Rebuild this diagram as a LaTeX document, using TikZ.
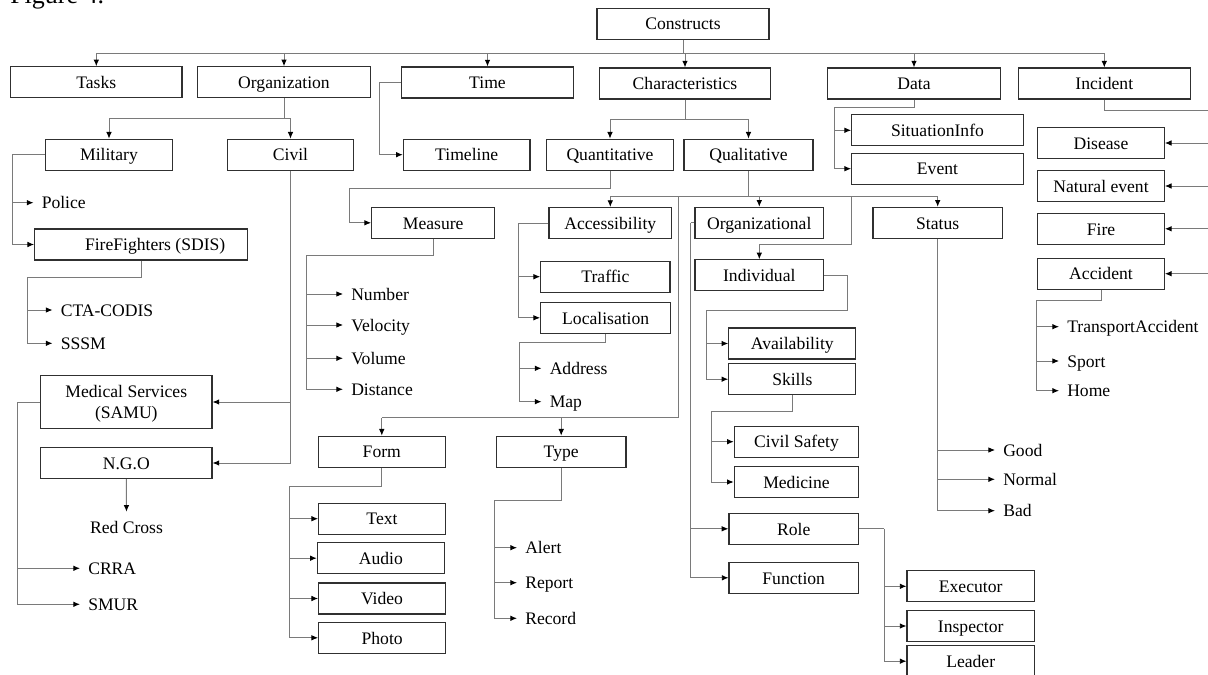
\documentclass[tikz,border=0pt]{standalone}
\usepackage{fontspec}
\setmainfont{Liberation Serif}
\usetikzlibrary{arrows.meta}

\definecolor{boxline}{HTML}{303030}
\definecolor{wire}{HTML}{7A7A7A}

\tikzset{
  box/.style={draw=boxline, line width=0.9pt, inner sep=0pt, minimum height=23.2pt,
    minimum width={#1*0.75pt}, text height=9.4pt, text depth=0pt},
  lbl/.style={anchor=west, inner xsep=6pt, inner ysep=0pt, text height=9pt, text depth=0pt},
  link/.style={draw=wire, line width=0.7pt},
  arr/.style={link, -{Latex[length=5pt,width=4.2pt,color=black]}},
}

\begin{document}
\begin{tikzpicture}[x=0.75pt, y=-0.75pt, font=\fontsize{13.2}{16}\selectfont]

        \useasboundingbox (0,0) rectangle (1208,675);
        \clip (0,0) rectangle (1208,675);

        \node(FIG)[anchor=base west, inner sep=0pt, font=\fontsize{19.5}{22}\selectfont] at (10,3) {Figure 4.};

        % Constructs:
        \node(CON)[box=172] at (683,23.7) {Constructs};
        \node(TSK)[box=171.5] at (96.3,82.3) {Tasks};
        \node(ORG)[box=172.6] at (284,82.3) {Organization};
        \node(TIM)[box=171.6] at (487.5,82.5) {Time};
        \node(CHA)[box=171.7] at (685,83.5) {Characteristics};
        \node(DAT)[box=172.3] at (914,83.5) {Data};
        \node(INC)[box=172] at (1104.3,83.5) {Incident};
        \coordinate (CONbus) at (684,53.3);
        \draw[link] (CON.south) -- (CON.south |- CONbus);
        \draw[link] (TSK.north |- CONbus) -- (INC.north |- CONbus);
        \foreach \n in {TSK,ORG,TIM,CHA,DAT,INC}
          \draw[arr] (\n.north |- CONbus) -- (\n.north);

        % Organization:
        \node(MIL)[box=126.6] at (109,154.7) {Military};
        \node(CIV)[box=126.4] at (290.5,154.7) {Civil};
        \coordinate (ORGbus) at (284,118.3);
        \draw[link] (ORG.south) -- (ORGbus);
        \draw[link] (MIL.north |- ORGbus) -- (CIV.north |- ORGbus);
        \draw[arr] (MIL.north |- ORGbus) -- (MIL.north);
        \draw[arr] (CIV.north |- ORGbus) -- (CIV.north);

        % Military:
        \node(POL)[lbl] at (33.5,202.7) {Police};
        \node(FFS)[box=213] at (141.2,244.5) {\hspace*{21pt}FireFighters (SDIS)};
        \coordinate (MILbar) at (12.3,154.7);
        \draw[link] (MIL.west) -- (MILbar);
        \draw[arr] (MILbar) |- (POL.west);
        \draw[arr] (MILbar) |- (FFS.west);
        \node(CTA)[lbl] at (52.5,310) {CTA-CODIS};
        \node(SSM)[lbl] at (52.5,343.3) {SSSM};
        \coordinate (FFSbar) at (27.3,277);
        \draw[link] (FFS.south) |- (FFSbar);
        \draw[arr] (FFSbar) |- (CTA.west);
        \draw[arr] (FFSbar) |- (SSM.west);

        % Civil:
        \node(MED)[box=171.3, minimum height=39.5pt, text height=, align=center] at (126.3,402) {Medical Services\\(SAMU)};
        \node(NGO)[box=171.3] at (126.3,463) {N.G.O};
        \draw[arr] (CIV.south) |- (MED.east);
        \draw[arr] (CIV.south) |- (NGO.east);
        \node(RCR)[lbl, anchor=north, inner ysep=7pt] at (126.5,511.7) {Red Cross};
        \draw[arr] (NGO.south) -- (RCR.north);
        \node(CRA)[lbl] at (80,568.3) {CRRA};
        \node(SMU)[lbl] at (80,604.3) {SMUR};
        \coordinate (MEDbar) at (17.7,402);
        \draw[link] (MED.west) -- (MEDbar);
        \draw[arr] (MEDbar) |- (CRA.west);
        \draw[arr] (MEDbar) |- (SMU.west);

        % Time:
        \node(TML)[box=126.7] at (466.7,154.7) {Timeline};
        \coordinate (TIMbar) at (379.5,82.5);
        \draw[arr] (TIM.west) -- (TIMbar) |- (TML.west);

        % Characteristics:
        \node(QNT)[box=126.6] at (610,154.7) {Quantitative};
        \node(QLT)[box=129] at (748.5,154.7) {Qualitative};
        \coordinate (CHAbus) at (684.5,119);
        \draw[link] (CHA.south) -- (CHA.south |- CHAbus);
        \draw[link] (QNT.north |- CHAbus) -- (QLT.north |- CHAbus);
        \draw[arr] (QNT.north |- CHAbus) -- (QNT.north);
        \draw[arr] (QLT.north |- CHAbus) -- (QLT.north);

        % Quantitative:
        \node(MEA)[box=123] at (433.2,222.8) {Measure};
        \coordinate (QNTbar) at (349,188.7);
        \draw[arr] (QNT.south) |- (QNTbar) |- (MEA.west);
        \node(NUM)[lbl] at (343,294) {Number};
        \node(VEL)[lbl] at (343,325) {Velocity};
        \node(VOL)[lbl] at (343,358.3) {Volume};
        \node(DST)[lbl] at (343,389.3) {Distance};
        \coordinate (MEAbar) at (306,255);
        \draw[link] (MEA.south) |- (MEAbar);
        \foreach \n in {NUM,VEL,VOL,DST}
          \draw[arr] (MEAbar) |- (\n.west);

        % Qualitative:
        \node(ACC)[box=122.7] at (610.3,223) {Accessibility};
        \node(OGL)[box=128.6] at (759.3,222.8) {Organizational};
        \node(STA)[box=129.3] at (937.7,222.8) {Status};
        \coordinate (QLTbus) at (747.5,196);
        \draw[link] (QLT.south) -- (QLT.south |- QLTbus);
        \draw[link] (ACC.north |- QLTbus) -- (STA.north |- QLTbus);
        \foreach \n in {ACC,OGL,STA}
          \draw[arr] (\n.north |- QLTbus) -- (\n.north);
        \node(IND)[box=128.6] at (759.3,275.3) {Individual};
        \coordinate (INDtop) at (851.8,244);
        \draw[arr] (INDtop |- QLTbus) -- (INDtop) -| (IND.north);
        \node(FRM)[box=127] at (381.8,451.7) {Form};
        \node(TYP)[box=129.7] at (561.2,451.7) {Type};
        \coordinate (FTbus) at (678.5,417.5);
        \draw[link] (FTbus |- QLTbus) -- (FTbus) -- (FRM.north |- FTbus);
        \draw[arr] (FRM.north |- FTbus) -- (FRM.north);
        \draw[arr] (TYP.north |- FTbus) -- (TYP.north);

        % Accessibility:
        \node(TRF)[box=129.3] at (605.4,276.7) {Traffic};
        \node(LOC)[box=130] at (605.7,317.8) {Localisation};
        \coordinate (ACCbar) at (518.3,223);
        \draw[link] (ACC.west) -- (ACCbar);
        \draw[arr] (ACCbar) |- (TRF.west);
        \draw[arr] (ACCbar) |- (LOC.west);
        \node(ADR)[lbl] at (541.5,368.3) {Address};
        \node(MAP)[lbl] at (541.5,401.7) {Map};
        \coordinate (LOCbar) at (519,342.7);
        \draw[link] (LOC.south) |- (LOCbar);
        \draw[arr] (LOCbar) |- (ADR.west);
        \draw[arr] (LOCbar) |- (MAP.west);

        % Organizational:
        \node(ROL)[box=129.7] at (793.8,528.8) {Role};
        \node(FUN)[box=129.3] at (793.7,577.8) {Function};
        \coordinate (OGLbar) at (690.7,222.8);
        \draw[link] (OGL.west) -- (OGLbar);
        \draw[arr] (OGLbar) |- (ROL.west);
        \draw[arr] (OGLbar) |- (FUN.west);

        % Individual:
        \node(AVL)[box=127] at (792.3,343.5) {Availability};
        \node(SKL)[box=127] at (792.3,379.2) {Skills};
        \coordinate (INDturn) at (847,310);
        \coordinate (INDbar) at (706.5,310);
        \draw[link] (IND.east) -| (INDturn) -- (INDbar);
        \draw[arr] (INDbar) |- (AVL.west);
        \draw[arr] (INDbar) |- (SKL.west);
        \node(CVS)[box=124.4] at (796.5,441.7) {Civil Safety};
        \node(MDC)[box=124.4] at (796.5,482) {Medicine};
        \coordinate (SKLbar) at (711.7,411);
        \draw[link] (SKL.south) |- (SKLbar);
        \draw[arr] (SKLbar) |- (CVS.west);
        \draw[arr] (SKLbar) |- (MDC.west);

        % Role:
        \node(EXE)[box=127.3] at (970.7,586.3) {Executor};
        \node(INS)[box=127.3] at (970.7,626) {Inspector};
        \node(LEA)[box=127.3] at (970.7,661.2) {Leader};
        \coordinate (ROLbar) at (884,528.8);
        \draw[link] (ROL.east) -- (ROLbar);
        \foreach \n in {EXE,INS,LEA}
          \draw[arr] (ROLbar) |- (\n.west);

        % Status:
        \node(GOO)[lbl] at (995,450) {Good};
        \node(NRM)[lbl] at (995,479.3) {Normal};
        \node(BAD)[lbl] at (995,510.7) {Bad};
        \foreach \n in {GOO,NRM,BAD}
          \draw[arr] (STA.south) |- (\n.west);

        % Form:
        \node(TXT)[box=126.6] at (382,518.7) {Text};
        \node(AUD)[box=127] at (380.8,558.2) {Audio};
        \node(VID)[box=126.6] at (382,598.5) {Video};
        \node(PHO)[box=127] at (382.2,637.8) {Photo};
        \coordinate (FRMbar) at (289.3,486);
        \draw[link] (FRM.south) |- (FRMbar);
        \foreach \n in {TXT,AUD,VID,PHO}
          \draw[arr] (FRMbar) |- (\n.west);

        % Type:
        \node(ALE)[lbl] at (517,547.7) {Alert};
        \node(REP)[lbl] at (517,582.7) {Report};
        \node(REC)[lbl] at (517,618.3) {Record};
        \coordinate (TYPbar) at (494.3,500);
        \draw[link] (TYP.south) |- (TYPbar);
        \foreach \n in {ALE,REP,REC}
          \draw[arr] (TYPbar) |- (\n.west);

        % Data:
        \node(SIT)[box=171.6] at (937.5,130.3) {SituationInfo};
        \node(EVT)[box=171.6] at (937.5,168.7) {Event};
        \coordinate (DATbar) at (834.3,107.3);
        \draw[link] (DAT.south) |- (DATbar);
        \draw[arr] (DATbar) |- (SIT.west);
        \draw[arr] (DATbar) |- (EVT.west);

        % Incident:
        \node(DIS)[box=126.6] at (1101,143) {Disease};
        \node(NAT)[box=126.6] at (1101,186) {Natural event};
        \node(FIR)[box=126.6] at (1101,228.8) {Fire};
        \node(ACD)[box=126.6] at (1101,273.7) {Accident};
        \coordinate (INCbar) at (1218,110);
        \draw[link] (INC.south) |- (INCbar) -- (INCbar |- ACD.east);
        \foreach \n in {DIS,NAT,FIR,ACD}
          \draw[arr] (INCbar |- \n.east) -- (\n.east);
        \node(TRA)[lbl] at (1059,326.7) {TransportAccident};
        \node(SPO)[lbl] at (1059,361) {Sport};
        \node(HOM)[lbl] at (1059,390.7) {Home};
        \coordinate (ACDbar) at (1036,300.7);
        \draw[link] (ACD.south) |- (ACDbar);
        \foreach \n in {TRA,SPO,HOM}
          \draw[arr] (ACDbar) |- (\n.west);

    \end{tikzpicture}
\end{document}
